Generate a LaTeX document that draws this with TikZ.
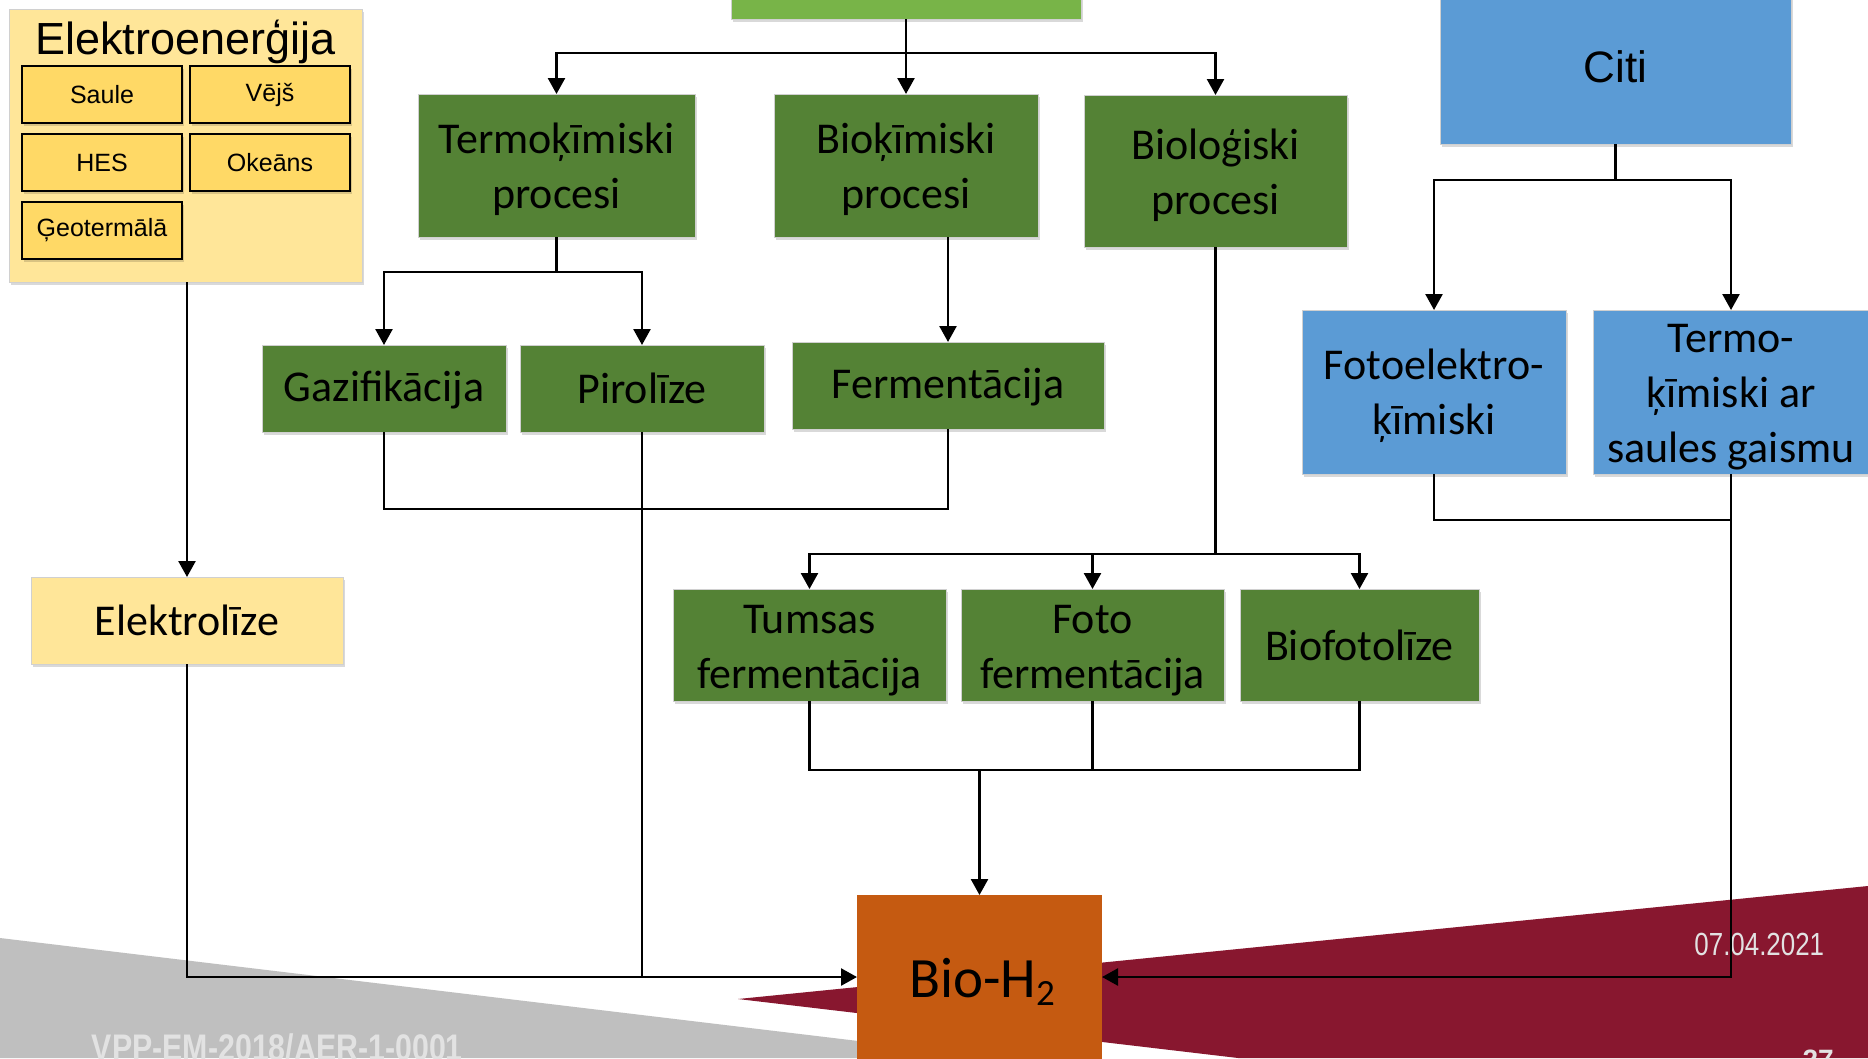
\documentclass[tikz,border=0pt]{standalone}
\usepackage{fontspec}
\setmainfont{Carlito}
\newfontfamily\arialf{Liberation Sans}
\usetikzlibrary{arrows.meta,shadows}
\definecolor{dgreen}{HTML}{548235}
\definecolor{lgreen}{HTML}{78B448}
\definecolor{oblue}{HTML}{5B9BD5}
\definecolor{lyellow}{HTML}{FFE699}
\definecolor{goldy}{HTML}{FFD966}
\definecolor{orng}{HTML}{C55A11}
\definecolor{maroonc}{HTML}{88172F}
\definecolor{sgray}{HTML}{BFBFBF}
\definecolor{bordergray}{HTML}{D0D0D0}
\definecolor{foottext}{HTML}{E2E2E2}
\newcommand{\fstl}{\rule{0pt}{39pt}}
\tikzset{
  shad/.style={drop shadow={shadow xshift=2pt,shadow yshift=-3pt,fill=black,opacity=0.15}},
  basebox/.style={rectangle,inner sep=0pt,outer sep=0pt,align=center,draw=bordergray,line width=1pt,shad},
  gbox/.style={basebox,fill=dgreen,font=\fontsize{44}{55}\selectfont},
  bbox/.style={basebox,fill=oblue,font=\fontsize{44}{55}\selectfont},
  ybox/.style={basebox,fill=lyellow,font=\fontsize{44}{55}\selectfont},
  srcbox/.style={rectangle,inner sep=0pt,outer sep=0pt,fill=goldy,draw=black,line width=1.6pt,
    minimum width=160pt,minimum height=57pt,font=\arialf\fontsize{25}{30}\selectfont,shad},
  conn/.style={line width=2.2pt,black},
  arr/.style={line width=2.5pt,black,-{Triangle[width=17pt,length=16pt]}},
}
\begin{document}
\begin{tikzpicture}[x=1pt,y=-1pt]
\useasboundingbox (0,0) rectangle (1868,1058);
\clip (0,0) rectangle (1868,1058);
\fill[white] (0,0) rectangle (1868,1058);
% footer shapes
\fill[sgray] (0,938) -- (1000,1058) -- (0,1058) -- cycle;
\fill[maroonc] (738,999) -- (1868,886) -- (1868,1058) -- (1238,1058) -- cycle;
\node[anchor=base east,text=foottext,font=\arialf\fontsize{32}{32}\selectfont,xscale=0.81] (date) at (1827,955) {07.04.2021};
\node[anchor=base west,text=foottext,font=\arialf\bfseries\fontsize{37}{37}\selectfont,xscale=0.82] (vpp) at (89,1060) {VPP-EM-2018/AER-1-0001};
\node[anchor=base west,text=foottext,font=\arialf\bfseries\fontsize{28}{28}\selectfont] (pg) at (1799,1069) {27};

% Elektroenergija group
\node[basebox,fill=lyellow,minimum width=353pt,minimum height=273pt] (elekbox) at (185.5,145.5) {};
\node[anchor=base,font=\arialf\fontsize{45}{50}\selectfont] (eltitle) at (185.5,54) {Elektroenerģija};
\node[srcbox] (saule) at (102,94.5) {Saule};
\node[srcbox] (vejs) at (270,94.5) {Vējš};
\node[srcbox] (hes) at (102,162.5) {HES};
\node[srcbox] (okeans) at (270,162.5) {Okeāns};
\node[srcbox] (geo) at (102,230.5) {Ģeotermālā};

% main boxes
\node[basebox,fill=lgreen,minimum width=350pt,minimum height=29pt] (top) at (906,4.5) {};
\node[gbox,minimum width=277pt,minimum height=143pt] (termo) at (556.5,165.5) {\fstl Termoķīmiski\\procesi};
\node[gbox,minimum width=264pt,minimum height=143pt] (biok) at (906,165.5) {\fstl Bioķīmiski\\procesi};
\node[gbox,minimum width=263pt,minimum height=152pt] (biol) at (1215.5,171) {\fstl Bioloģiski\\procesi};
\node[basebox,fill=oblue,minimum width=351pt,minimum height=154pt,font=\arialf\fontsize{44}{50}\selectfont] (citi) at (1615.5,67) {Citi};
\node[gbox,minimum width=244pt,minimum height=87pt] (gazif) at (384,388.5) {\rule{0pt}{34pt}Gazifikācija};
\node[gbox,minimum width=244pt,minimum height=87pt] (piro) at (642,388.5) {Pirolīze};
\node[gbox,minimum width=312pt,minimum height=87pt] (ferm) at (948,385.5) {\rule{0pt}{34pt}Fermentācija};
\node[bbox,minimum width=264pt,minimum height=164pt] (fotoel) at (1434,392) {\fstl Fotoelektro-\\ķīmiski};
\node[bbox,minimum width=276pt,minimum height=164pt] (termos) at (1731,392) {\fstl Termo-\\ķīmiski ar\\saules gaismu};
\node[ybox,minimum width=312pt,minimum height=87pt] (elektrolize) at (187,620.5) {Elektrolīze};
\node[gbox,minimum width=273pt,minimum height=112pt] (tumsas) at (809.5,645) {\fstl Tumsas\\fermentācija};
\node[gbox,minimum width=263pt,minimum height=112pt] (foto) at (1092.5,645) {\fstl Foto\\fermentācija};
\node[gbox,minimum width=239pt,minimum height=112pt] (biofoto) at (1359.5,645) {Biofotolīze};

% connectors
\coordinate (hub1) at (906,53);
\draw[arr] (top.south) -- (biok.north);
\draw[arr] (hub1) -| (termo.north);
\draw[arr] (hub1) -| (biol.north);
\coordinate (hub2) at (556.5,272);
\draw[conn] (termo.south) -- (hub2);
\draw[arr] (hub2) -| (gazif.north);
\draw[arr] (hub2) -| (piro.north);
\draw[arr] (ferm.north |- biok.south) -- (ferm.north);
\coordinate (hub3) at (1215.5,554);
\draw[arr] (biol.south) -- (hub3) -| (tumsas.north);
\draw[arr] (hub3) -| (foto.north);
\draw[arr] (hub3) -| (biofoto.north);
\coordinate (hub4) at (1615.5,180);
\draw[conn] (citi.south) -- (hub4);
\draw[arr] (hub4) -| (fotoel.north);
\draw[arr] (hub4) -| (termos.north);
\draw[arr] (elekbox.south -| elektrolize.north) -- (elektrolize.north);
\draw[conn] (gazif.south) -- ++(0,77) -| (ferm.south);
\draw[conn] (tumsas.south) -- ++(0,69) -| (biofoto.south);
\draw[conn] (foto.south) -- ++(0,69);
\draw[conn] (fotoel.south) -- ++(0,46) -| (termos.south);

\node[rectangle,inner sep=0pt,outer sep=0pt,fill=orng,minimum width=245pt,minimum height=164pt] (bioh2) at (979.5,977) {};
\node[anchor=base,font=\fontsize{57}{60}\selectfont] (bioh2t) at (982,997) {Bio-H\raisebox{-8pt}{\fontsize{37}{37}\selectfont 2}};
\draw[arr] (elektrolize.south) |- (bioh2.west);
\draw[conn] (piro.south) -- (piro.south |- bioh2.west);
\draw[arr] (termos.south) |- (bioh2.east);
\draw[arr] (bioh2.north |- 0,770) -- (bioh2.north);
\end{tikzpicture}
\end{document}
